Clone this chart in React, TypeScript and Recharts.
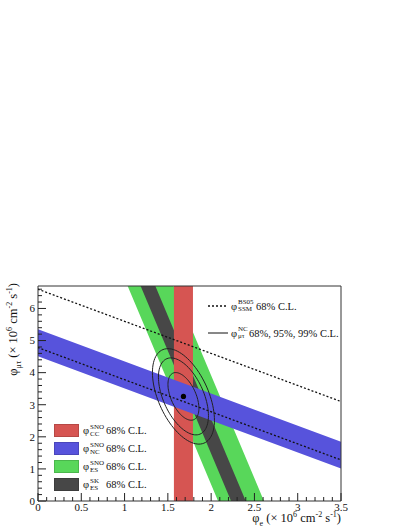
import React from "react"
import { ComposedChart, XAxis, YAxis, Area, Line, Scatter, ReferenceArea } from "recharts"

// measured fluxes (10^6 cm^-2 s^-1), 68% C.L. bands
const CC_BAND = [1.57, 1.79]
const NC_BAND = [4.51, 5.35]
const ES_SNO_BAND = [2.08, 2.61]
const ES_SK_BAND = [2.23, 2.4]
const SSM_BAND = [4.78, 6.6]
const ES_MUTAU_WEIGHT = 0.1559

// best fit point and its error ellipse
const BEST_FIT = [{ x: 1.68, y: 3.26 }]
const FIT_SIGMA = [0.118, 0.49]
const FIT_RHO = -0.5
const CL_SCALE = [1.515, 2.448, 3.035] // 68%, 95%, 99%

const X_DOMAIN = [0, 3.5]
const Y_DOMAIN = [0, 6.7]
const X_LABELS = [0, 0.5, 1, 1.5, 2, 2.5, 3, 3.5]
const Y_LABELS = [0, 1, 2, 3, 4, 5, 6]
// band edges are drawn past the frame and clipped
const X_EDGES = [-1, 5]

const COLORS = {
  cc: "#d65552",
  nc: "#5753dc",
  es: "#58d75a",
  sk: "#474747",
}

const PLOT = { left: 38, right: 341, top: 286, bottom: 501 }

const steps = (from: number, to: number, step: number) => {
  const out: number[] = []
  for (let i = 0; from + i * step <= to + 1e-9; i++) out.push(Math.round((from + i * step) * 100) / 100)
  return out
}
const X_TICKS = steps(X_DOMAIN[0], X_DOMAIN[1], 0.1)
const Y_TICKS = steps(Y_DOMAIN[0], 6.6, 0.2)

const rowXs = [X_EDGES[0], CC_BAND[0], CC_BAND[1], X_EDGES[1]].sort((a, b) => a - b)
const esEdge = (es: number, x: number) => (es - x) / ES_MUTAU_WEIGHT

const bandData = rowXs.map((x) => ({
  x,
  nc: [NC_BAND[0] - x, NC_BAND[1] - x],
  es: [esEdge(ES_SNO_BAND[0], x), esEdge(ES_SNO_BAND[1], x)],
  sk: [esEdge(ES_SK_BAND[0], x), esEdge(ES_SK_BAND[1], x)],
  cc: x === CC_BAND[0] || x === CC_BAND[1] ? [-1, 10] : null,
  ssmLo: SSM_BAND[0] - x,
  ssmHi: SSM_BAND[1] - x,
}))

const ellipse = (k: number) => {
  const pts = []
  const n = 96
  for (let i = 0; i <= n; i++) {
    const t = (2 * Math.PI * i) / n
    pts.push({
      x: BEST_FIT[0].x + k * FIT_SIGMA[0] * Math.cos(t),
      y: BEST_FIT[0].y + k * FIT_SIGMA[1] * (FIT_RHO * Math.cos(t) + Math.sqrt(1 - FIT_RHO * FIT_RHO) * Math.sin(t)),
    })
  }
  return pts
}

const fontFamily = "'Liberation Serif', 'Times New Roman', Tinos, 'DejaVu Serif', serif"

function XTick(props: any) {
  const { x, payload } = props
  const v = payload.value
  const major = X_LABELS.some((l) => Math.abs(l - v) < 1e-6)
  return (
    <g>
      <line x1={x} x2={x} y1={PLOT.bottom} y2={PLOT.bottom - (major ? 8 : 4)} stroke="#222" />
      {major && (
        <text x={x} y={PLOT.bottom + 10} textAnchor="middle" fontSize={11} fontFamily={fontFamily} fill="#111">
          {v}
        </text>
      )}
    </g>
  )
}

function YTick(props: any) {
  const { y, payload } = props
  const v = payload.value
  const major = Y_LABELS.some((l) => Math.abs(l - v) < 1e-6)
  return (
    <g>
      <line x1={PLOT.left} x2={PLOT.left + (major ? 8 : 4)} y1={y} y2={y} stroke="#222" />
      {major && (
        <text x={PLOT.left - 3} y={y} dy="0.35em" textAnchor="end" fontSize={11} fontFamily={fontFamily} fill="#111">
          {v}
        </text>
      )}
    </g>
  )
}

function Stack({ sup, sub, w }: { sup: string; sub: string; w: number }) {
  return (
    <span style={{ display: "inline-flex", flexDirection: "column", fontSize: 7, lineHeight: "7px", width: w, marginLeft: 1 }}>
      <span>{sup}</span>
      <span>{sub}</span>
    </span>
  )
}

const FLUX_LEGEND = [
  { color: COLORS.cc, sup: "SNO", sub: "CC" },
  { color: COLORS.nc, sup: "SNO", sub: "NC" },
  { color: COLORS.es, sup: "SNO", sub: "ES" },
  { color: COLORS.sk, sup: "SK", sub: "ES" },
]

const small = { fontSize: 8, lineHeight: 0 }

export default function App() {
  const noDot = () => <g />
  return (
    <div style={{ position: "absolute", left: 0, top: 0, width: 409, height: 529, background: "#fff", fontFamily, color: "#111" }}>
      <ComposedChart width={409} height={529} data={bandData} margin={{ top: 286, right: 68, bottom: 8, left: 8 }}>
        <XAxis
          dataKey="x"
          type="number"
          domain={X_DOMAIN}
          allowDataOverflow
          ticks={X_TICKS}
          interval={0}
          height={20}
          axisLine={false}
          tickLine={false}
          tick={(p: any) => <XTick {...p} />}
        />
        <YAxis
          type="number"
          domain={Y_DOMAIN}
          allowDataOverflow
          ticks={Y_TICKS}
          interval={0}
          width={30}
          axisLine={false}
          tickLine={false}
          tick={(p: any) => <YTick {...p} />}
        />
        <Area dataKey="es" type="linear" stroke="none" fill={COLORS.es} fillOpacity={1} connectNulls isAnimationActive={false} />
        <Area dataKey="sk" type="linear" stroke="none" fill={COLORS.sk} fillOpacity={1} connectNulls isAnimationActive={false} />
        <Area dataKey="cc" type="linear" stroke="none" fill={COLORS.cc} fillOpacity={1} isAnimationActive={false} />
        <Area dataKey="nc" type="linear" stroke="none" fill={COLORS.nc} fillOpacity={1} connectNulls isAnimationActive={false} />
        <Line dataKey="ssmLo" type="linear" stroke="#111" strokeWidth={1.3} strokeDasharray="2 2" dot={false} isAnimationActive={false} />
        <Line dataKey="ssmHi" type="linear" stroke="#111" strokeWidth={1.3} strokeDasharray="2 2" dot={false} isAnimationActive={false} />
        {CL_SCALE.map((k) => (
          <Scatter
            key={k}
            data={ellipse(k)}
            dataKey="y"
            line={{ stroke: "#222", strokeWidth: 1 }}
            lineType="joint"
            shape={noDot}
            isAnimationActive={false}
          />
        ))}
        <Scatter data={BEST_FIT} dataKey="y" fill="#000" shape={(p: any) => <circle cx={p.cx} cy={p.cy} r={2.6} fill="#000" />} isAnimationActive={false} />
        <ReferenceArea x1={X_DOMAIN[0]} x2={X_DOMAIN[1]} y1={Y_DOMAIN[0]} y2={Y_DOMAIN[1]} fill="none" stroke="#333" strokeWidth={1} />
      </ComposedChart>

      {/* y title */}
      <div
        style={{
          position: "absolute",
          left: 6,
          top: 410,
          width: 127,
          textAlign: "right",
          fontSize: 12.5,
          lineHeight: "14px",
          whiteSpace: "nowrap",
          transform: "rotate(-90deg)",
          transformOrigin: "top left",
        }}
      >
        φ<sub style={small}>μτ</sub> (× 10<sup style={small}>6</sup> cm<sup style={small}>-2</sup> s<sup style={small}>-1</sup>)
      </div>

      {/* x title */}
      <div style={{ position: "absolute", left: 180, top: 511, width: 161, textAlign: "right", fontSize: 12.5, lineHeight: "14px", whiteSpace: "nowrap" }}>
        φ<sub style={small}>e</sub> (× 10<sup style={small}>6</sup> cm<sup style={small}>-2</sup> s<sup style={small}>-1</sup>)
      </div>

      {/* flux legend */}
      {FLUX_LEGEND.map((item, i) => (
        <div key={i} style={{ position: "absolute", left: 54, top: 424 + i * 18, height: 13, display: "flex", alignItems: "center", fontSize: 10.5, whiteSpace: "nowrap" }}>
          <span style={{ width: 25, height: 13, background: item.color, boxSizing: "border-box", border: "1px solid rgba(0,0,0,0.15)" }} />
          <span style={{ marginLeft: 4 }}>φ</span>
          <Stack sup={item.sup} sub={item.sub} w={16} />
          <span>68% C.L.</span>
        </div>
      ))}

      {/* line legend */}
      <svg width={409} height={529} style={{ position: "absolute", left: 0, top: 0 }}>
        <line x1={208} x2={228} y1={306} y2={306} stroke="#111" strokeWidth={1.3} strokeDasharray="2 2" />
        <line x1={208} x2={228} y1={333} y2={333} stroke="#111" strokeWidth={1} />
      </svg>
      <div style={{ position: "absolute", left: 231, top: 299, height: 14, display: "flex", alignItems: "center", fontSize: 10.5, whiteSpace: "nowrap" }}>
        <span>φ</span>
        <Stack sup="BS05" sub="SSM" w={18} />
        <span>68% C.L.</span>
      </div>
      <div style={{ position: "absolute", left: 231, top: 326, height: 14, display: "flex", alignItems: "center", fontSize: 10.5, whiteSpace: "nowrap" }}>
        <span>φ</span>
        <Stack sup="NC" sub="μτ" w={11} />
        <span>68%, 95%, 99% C.L.</span>
      </div>
    </div>
  )
}
